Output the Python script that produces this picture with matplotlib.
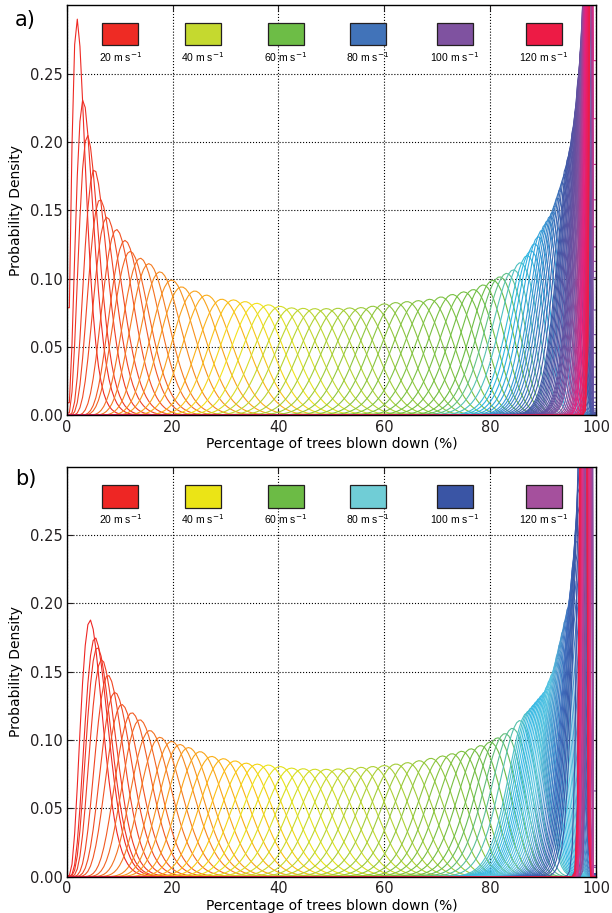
import math
import numpy as np
import matplotlib
matplotlib.use('Agg')
import matplotlib.pyplot as plt
from matplotlib.colors import LinearSegmentedColormap
from matplotlib.patches import Rectangle

# one curve per wind speed (m/s)
WIND = np.arange(20, 121)

# legend
LEGEND_WIND = [20, 40, 60, 80, 100, 120]
LEGEND_X = [10.1, 25.7, 41.4, 56.9, 73.3, 90.1]
LEGEND_COLORS_A = ['#ee2b24', '#c5d92f', '#6dbd46', '#4173b9', '#7f52a0', '#ed1b45']
LEGEND_COLORS_B = ['#ee2624', '#ebe416', '#6cbb45', '#70cdd6', '#3a55a5', '#a5509d']

# panel a: position of each curve's peak (%), read against wind speed
MODE_WIND_A = [20, 21, 22, 23, 24, 25, 26, 27, 28, 29, 30, 31, 32, 33, 34, 35, 36, 37,
               40, 50, 57, 60, 65, 70, 80, 90, 100, 110, 120]
MODE_A = [1.95, 3.1, 3.9, 5.2, 6.3, 7.6, 9.4, 11.0, 12.0, 13.9, 15.5, 17.6, 19.8, 21.7,
          24.2, 26.4, 29.3, 31.5, 38.1, 60.0, 75.0, 80.5, 87.0, 90.5, 95.0, 97.0, 98.3, 99.0, 99.5]
# panel a: envelope of the peaks (peak position %, density)
ENV_X_A = [1.95, 3.1, 3.9, 5.2, 6.3, 7.6, 9.4, 11.0, 12.0, 13.9, 15.5, 17.6, 19.8, 21.7,
           24.2, 26.4, 29.3, 31.5, 35.9, 42.8, 47.9, 56.7, 60.5, 68.0, 71.8, 76.8, 80.6,
           84.4, 87.5, 89.4, 92.0, 94.0, 95.5, 96.5, 97.5, 98.3, 99.0, 99.5]
ENV_Y_A = [0.29, 0.231, 0.205, 0.18, 0.158, 0.145, 0.136, 0.128, 0.12, 0.115, 0.111, 0.105,
           0.099, 0.094, 0.091, 0.088, 0.085, 0.0845, 0.082, 0.0785, 0.078, 0.079, 0.082,
           0.0845, 0.0875, 0.092, 0.099, 0.1065, 0.119, 0.133, 0.15, 0.175, 0.2, 0.23,
           0.28, 0.36, 0.7, 1.5]
COLOR_WIND_A = [20, 27, 32, 36, 39, 42, 50, 60, 63, 66, 72, 80, 95, 100, 110, 120]
COLOR_A = ['#ee2a24', '#f15a24', '#f7941d', '#fbb619', '#f2e51b', '#c4d82e', '#8dc63f',
           '#6cbd45', '#5cc4b0', '#2cb7e6', '#3a8fd0', '#3f5aa8', '#6a4f9f', '#7f52a0',
           '#e6237e', '#ee1c46']

# panel b (the last, reddish curves sit left of the blue/purple ones)
MODE_WIND_B = [20, 21, 22, 23, 24, 25, 26, 27, 28, 29, 30, 31, 33, 34, 35, 37,
               40, 50, 55, 60, 65, 70, 80, 90, 100, 108, 112, 116, 120]
MODE_B = [4.4, 5.35, 5.8, 6.6, 7.8, 9.1, 10.4, 12.3, 13.8, 15.7, 17.6, 19.8, 23.0, 25.2,
          27.4, 31.8, 38.1, 60.0, 71.0, 80.0, 87.0, 89.0, 92.5, 95.5, 97.4, 98.9, 98.2,
          97.8, 97.6]
ENV_X_B = [4.4, 5.35, 5.8, 6.6, 9.1, 10.4, 12.3, 14.2, 15.7, 17.6, 19.8, 23.0, 25.2, 27.4,
           31.8, 34.0, 38.1, 42.8, 47.2, 50.4, 59.2, 65.5, 71.8, 76.8, 80.0, 83.8, 87.5,
           90.7, 92.5, 95.5, 96.5, 97.2, 97.6, 98.3, 99.0]
ENV_Y_B = [0.188, 0.175, 0.168, 0.159, 0.135, 0.126, 0.12, 0.1135, 0.107, 0.102, 0.099,
           0.0945, 0.0915, 0.088, 0.0847, 0.083, 0.0817, 0.0793, 0.0786, 0.0786, 0.081,
           0.084, 0.089, 0.094, 0.0985, 0.107, 0.122, 0.137, 0.155, 0.21, 0.26, 0.32,
           1.0, 1.1, 1.3]
COLOR_WIND_B = [20, 28, 32, 37, 40, 48, 60, 65, 70, 80, 90, 100, 108, 113, 120]
COLOR_B = ['#ee2624', '#f26522', '#f7941d', '#fdc010', '#ebe416', '#b5d334', '#6cbb45',
           '#4fc1c8', '#35b8e6', '#5cc6e0', '#3f6fbf', '#3a55a5', '#7a52a0', '#e0338a',
           '#ee1c46']

# percentage grid, half-percent steps
PCT = np.arange(0, 100.01, 0.5)


def beta_pdf(u, a, b):
    logc = math.lgamma(a + b) - math.lgamma(a) - math.lgamma(b)
    return np.exp(logc + (a - 1) * np.log(u) + (b - 1) * np.log1p(-u))


def shape_for(mode, peak):
    """beta parameters with the given mode (%) and peak density (per %)"""
    m = mode / 100
    lo, hi = math.log(2.05), math.log(1e7)
    for _ in range(70):
        mid = 0.5 * (lo + hi)
        k = math.exp(mid)
        a = 1 + m * (k - 2)
        b = 1 + (1 - m) * (k - 2)
        if beta_pdf(m, a, b) / 100 < peak:
            lo = mid
        else:
            hi = mid
    return a, b


def draw_panel(ax, mode_wind, modes, env_x, env_y, color_wind, colors, leg_colors, leg_y):
    cmap = LinearSegmentedColormap.from_list(
        'wind', list(zip([(w - 20) / 100 for w in color_wind], colors)))
    u = np.clip(PCT, 0.5, 99.5) / 100
    for w in WIND:
        mode = np.interp(w, mode_wind, modes)
        peak = np.interp(mode, env_x, env_y)
        a, b = shape_for(mode, peak)
        ax.plot(PCT, beta_pdf(u, a, b) / 100, color=cmap((w - 20) / 100), lw=0.8)

    for x, w, c in zip(LEGEND_X, LEGEND_WIND, leg_colors):
        ax.add_patch(Rectangle((x - 3.4, leg_y), 6.8, 0.0164, facecolor=c,
                               edgecolor='#231f20', lw=0.9, zorder=5))
        ax.text(x, leg_y - 0.0085, f'{w} m s$^{{-1}}$', ha='center', va='center',
                fontsize=7.5, family='Liberation Sans', zorder=5)

    ax.set_xlim(0, 100)
    ax.set_ylim(0, 0.30)
    ax.set_xticks([0, 20, 40, 60, 80, 100])
    ax.set_yticks([0, 0.05, 0.10, 0.15, 0.20, 0.25])
    ax.set_yticklabels(['0.00', '0.05', '0.10', '0.15', '0.20', '0.25'])
    ax.set_axisbelow(True)
    ax.grid(True, color='black', linestyle=':', linewidth=0.8)
    ax.tick_params(direction='in', top=True, right=True, length=4, width=0.8,
                   labelsize=10.5, pad=3, colors='#231f20')
    for s in ax.spines.values():
        s.set_linewidth(1.0)
    ax.set_xlabel('Percentage of trees blown down (%)', fontsize=10, labelpad=2)
    ax.set_ylabel('Probability Density', fontsize=10, labelpad=5)


fig = plt.figure(figsize=(6.12, 9.13), dpi=100)
ax_a = fig.add_axes([0.109, 0.545, 0.865, 0.4493])
ax_b = fig.add_axes([0.109, 0.0398, 0.865, 0.449])

draw_panel(ax_a, MODE_WIND_A, MODE_A, ENV_X_A, ENV_Y_A, COLOR_WIND_A, COLOR_A,
           LEGEND_COLORS_A, 0.2708)
draw_panel(ax_b, MODE_WIND_B, MODE_B, ENV_X_B, ENV_Y_B, COLOR_WIND_B, COLOR_B,
           LEGEND_COLORS_B, 0.2700)

fig.text(0.024, 0.989, 'a)', fontsize=15, va='top', ha='left')
fig.text(0.024, 0.486, 'b)', fontsize=15, va='top', ha='left')

fig.savefig('out.png', dpi=100)
